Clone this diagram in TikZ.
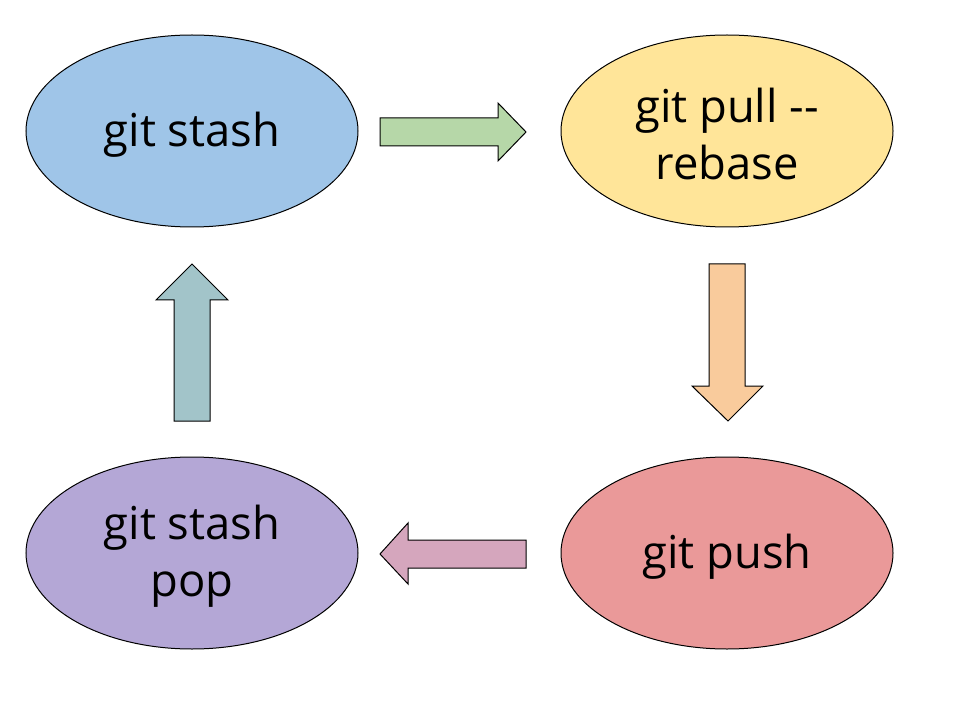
\documentclass[tikz,border=0pt]{standalone}
\usepackage{fontspec}
\setmainfont[Ligatures=NoCommon]{Open Sans}
\usetikzlibrary{shapes.geometric}
\definecolor{cblue}{HTML}{9FC5E8}
\definecolor{cyellow}{HTML}{FFE599}
\definecolor{cred}{HTML}{EA9999}
\definecolor{cpurple}{HTML}{B4A7D6}
\definecolor{cgreen}{HTML}{B6D7A8}
\definecolor{corange}{HTML}{F9CB9C}
\definecolor{cpink}{HTML}{D5A6BD}
\definecolor{cteal}{HTML}{A2C4C9}
\tikzset{
  stage/.style={ellipse, draw=black, line width=0.75pt, minimum width=332*0.75pt, minimum height=192*0.75pt, inner sep=0pt},
  stagetext/.style={align=center, inner sep=0pt, font=\fontsize{34}{43}\selectfont},
  blockarrow/.style={draw=black, line width=0.75pt, line join=miter}
}
\begin{document}
\begin{tikzpicture}[x=0.75pt,y=-0.75pt]
\useasboundingbox (0,0) rectangle (960,720);
\node[stage, fill=cblue] (stash) at (192,131) {};
\node[stage, fill=cyellow] (pull) at (727,131) {};
\node[stage, fill=cred] (push) at (727,553) {};
\node[stage, fill=cpurple] (pop) at (192,553) {};
\node[stagetext] (stasht) at ([yshift=-4*0.75pt]stash.center) {git stash};
\node[stagetext] (pullt) at ([yshift=-3*0.75pt]pull.center) {git pull -{}-\\rebase};
\node[stagetext] (pusht) at ([yshift=-4*0.75pt]push.center) {git push};
\node[stagetext] (popt) at ([yshift=-3*0.75pt]pop.center) {git stash\\pop};
% right arrow
\draw[blockarrow, fill=cgreen] (380,118) -- (498,118) -- (498,103) -- (526,132) -- (498,161) -- (498,146) -- (380,146) -- cycle;
% down arrow
\draw[blockarrow, fill=corange] (709,264) -- (745,264) -- (745,386) -- (763,386) -- (728,421) -- (692,386) -- (709,386) -- cycle;
% left arrow
\draw[blockarrow, fill=cpink] (526,540) -- (408,540) -- (408,523) -- (380,554) -- (408,584) -- (408,568) -- (526,568) -- cycle;
% up arrow
\draw[blockarrow, fill=cteal] (174,421) -- (210,421) -- (210,300) -- (228,300) -- (192,264) -- (156,300) -- (174,300) -- cycle;
\end{tikzpicture}
\end{document}
